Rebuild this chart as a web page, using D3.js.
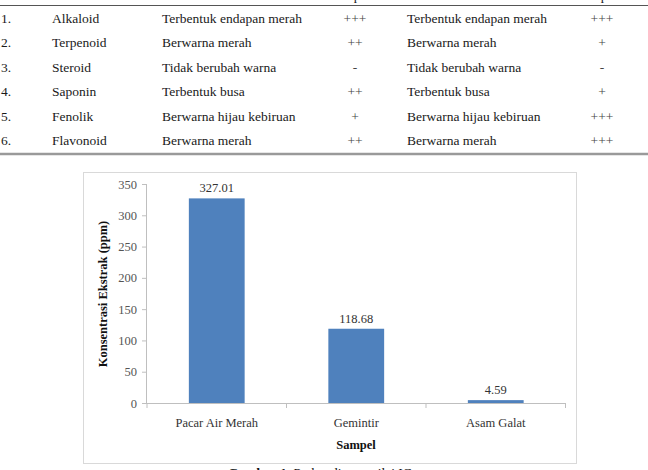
<!DOCTYPE html>
<html>
<head>
<meta charset="utf-8">
<script src="https://cdn.jsdelivr.net/npm/d3@7"></script>
<style>
  html, body { margin: 0; padding: 0; background: #fff; }
  svg { display: block; }
  svg text { font-family: "Liberation Serif", "Times New Roman", "DejaVu Serif", serif; }
</style>
</head>
<body>
<svg id="c" width="648" height="470"></svg>
<script>
// ---- Table data ----
const rowNumbers = ["1.", "2.", "3.", "4.", "5.", "6."];
const compounds = ["Alkaloid", "Terpenoid", "Steroid", "Saponin", "Fenolik", "Flavonoid"];
const resultA = ["Terbentuk endapan merah", "Berwarna merah", "Tidak berubah warna", "Terbentuk busa", "Berwarna hijau kebiruan", "Berwarna merah"];
const intensityA = ["+++", "++", "-", "++", "+", "++"];
const resultB = ["Terbentuk endapan merah", "Berwarna merah", "Tidak berubah warna", "Terbentuk busa", "Berwarna hijau kebiruan", "Berwarna merah"];
const intensityB = ["+++", "+", "-", "+", "+++", "+++"];

// ---- Chart data ----
const categories = ["Pacar Air Merah", "Gemintir", "Asam Galat"];
const values = [327.01, 118.68, 4.59];
const valueLabels = ["327.01", "118.68", "4.59"];
const yTicks = [0, 50, 100, 150, 200, 250, 300, 350];

const svg = d3.select("#c");

// ---------- Table ----------
const tbl = svg.append("g").style("font-size", "13.5px").attr("fill", "#1a1a1a");
// descenders of header row (cut off above)
tbl.append("text").attr("x", 357).attr("y", 0).attr("text-anchor", "middle").text("p");
tbl.append("text").attr("x", 604).attr("y", 0).attr("text-anchor", "middle").text("p");

tbl.append("line").attr("x1", 0).attr("x2", 648).attr("y1", 5.5).attr("y2", 5.5)
  .attr("stroke", "#555").attr("stroke-width", 1);
tbl.append("line").attr("x1", 0).attr("x2", 648).attr("y1", 154).attr("y2", 154)
  .attr("stroke", "#9a9a9a").attr("stroke-width", 2.5);

const rowY = d3.scaleBand().domain(d3.range(rowNumbers.length)).range([6, 153]);
const rows = tbl.selectAll("g.row").data(d3.range(rowNumbers.length)).join("g")
  .attr("class", "row")
  .attr("transform", i => `translate(0,${rowY(i) + rowY.bandwidth() / 2 + 4.5})`);
rows.append("text").attr("x", 1).text(i => rowNumbers[i]);
rows.append("text").attr("x", 52).text(i => compounds[i]);
rows.append("text").attr("x", 162).text(i => resultA[i]);
rows.append("text").attr("x", 355).attr("text-anchor", "middle").attr("fill", "#444").text(i => intensityA[i]);
rows.append("text").attr("x", 407).text(i => resultB[i]);
rows.append("text").attr("x", 602).attr("text-anchor", "middle").attr("fill", "#444").text(i => intensityB[i]);

// ---------- Chart ----------
svg.append("rect").attr("x", 83.5).attr("y", 172.5).attr("width", 493).attr("height", 291)
  .attr("fill", "#fff").attr("stroke", "#d9d9d9").attr("stroke-width", 1);

const x = d3.scaleBand().domain(categories).range([147, 565.5]).paddingInner(0.6).paddingOuter(0.3);
const y = d3.scaleLinear().domain([0, 350]).range([403, 184]);

const chart = svg.append("g");

// bars
chart.selectAll("rect.bar").data(values).join("rect")
  .attr("class", "bar")
  .attr("x", (d, i) => x(categories[i]))
  .attr("width", x.bandwidth())
  .attr("y", d => y(d))
  .attr("height", d => y(0) - y(d))
  .attr("fill", "#4f81bd");

// y axis
const yAxis = chart.append("g").attr("transform", "translate(147,0)")
  .call(d3.axisLeft(y).tickValues(yTicks).tickSize(5).tickPadding(5).tickFormat(d3.format("d")));
yAxis.attr("font-family", null);
yAxis.select(".domain").attr("stroke", "#bfbfbf").attr("d", `M-0.5,${y(0)}V${y(350)}`);
yAxis.selectAll(".tick line").attr("stroke", "#bfbfbf");
yAxis.selectAll(".tick text").style("font-size", "12.5px").attr("fill", "#555");

// x axis line with category-boundary ticks
const step = x.step();
const x0 = x.range()[0];
chart.append("line").attr("x1", 147).attr("x2", 565.5).attr("y1", y(0) + 0.5).attr("y2", y(0) + 0.5)
  .attr("stroke", "#bfbfbf");
chart.selectAll("line.xt").data(d3.range(categories.length + 1)).join("line")
  .attr("class", "xt")
  .attr("x1", i => x0 + i * step).attr("x2", i => x0 + i * step)
  .attr("y1", y(0)).attr("y2", y(0) + 5)
  .attr("stroke", "#bfbfbf");

// category labels
chart.selectAll("text.cat").data(categories).join("text")
  .attr("class", "cat")
  .attr("x", d => x(d) + x.bandwidth() / 2)
  .attr("y", 427)
  .attr("text-anchor", "middle")
  .style("font-size", "12.5px")
  .attr("fill", "#333")
  .text(d => d);

// value labels
chart.selectAll("text.val").data(values).join("text")
  .attr("class", "val")
  .attr("x", (d, i) => x(categories[i]) + x.bandwidth() / 2)
  .attr("y", d => y(d) - 6)
  .attr("text-anchor", "middle")
  .style("font-size", "12.5px")
  .attr("fill", "#333")
  .text((d, i) => valueLabels[i]);

// axis titles
chart.append("text").attr("x", 356).attr("y", 449).attr("text-anchor", "middle")
  .attr("font-weight", "bold").style("font-size", "12.5px").attr("fill", "#111").text("Sampel");
chart.append("text").attr("transform", "translate(107,294) rotate(-90)").attr("text-anchor", "middle")
  .attr("font-weight", "bold").style("font-size", "12.5px").attr("fill", "#111").text("Konsentrasi Ekstrak (ppm)");

// caption (cut off at bottom)
const cap = svg.append("text").attr("x", 228).attr("y", 477)
  .style("font-size", "13.5px").attr("fill", "#111");
cap.append("tspan").attr("font-weight", "bold").text("Gambar 1. ");
cap.append("tspan").text("Perbandingan nilai IC");
</script>
</body>
</html>
